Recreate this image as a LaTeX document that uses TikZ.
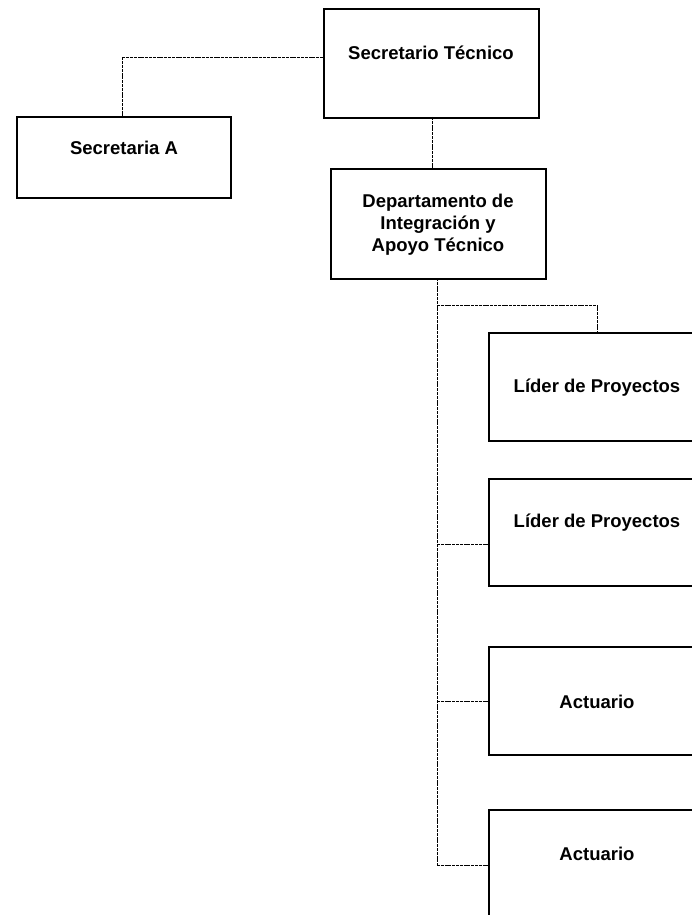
\documentclass[tikz,border=0pt]{standalone}
\usepackage{fontspec}
\setmainfont{Liberation Sans}
\begin{document}
\begin{tikzpicture}[x=1pt,y=-1pt,
  box/.style={draw=black,line width=1.8pt,fill=white,inner sep=0pt,anchor=north west},
  lbl/.style={font=\bfseries\fontsize{18.5}{22}\selectfont,align=center,inner sep=0pt},
  conn/.style={draw=black,line width=0.8pt,dash pattern=on 3pt off 0.8pt}]
\useasboundingbox (0,0) rectangle (692,915);
\clip (0,0) rectangle (692,915);
% boxes
\node[box,minimum width=215pt,minimum height=109pt] (st) at (323,8) {};
\node[box,minimum width=214pt,minimum height=81pt] (sa) at (16,116) {};
\node[box,minimum width=215pt,minimum height=110pt] (dep) at (330,168) {};
\node[box,minimum width=215pt,minimum height=108pt] (l1) at (488,332) {};
\node[box,minimum width=215pt,minimum height=107pt] (l2) at (488,478) {};
\node[box,minimum width=215pt,minimum height=108pt] (a1) at (488,646) {};
\node[box,minimum width=215pt,minimum height=110pt] (a2) at (488,809) {};
% labels
\node[lbl] (tst) at (431,53) {Secretario Técnico};
\node[lbl] (tsa) at (124,148) {Secretaria A};
\node[lbl] (tdep) at (438,225) {Departamento de\\Integración y\\Apoyo Técnico};
\node[lbl] (tl1) at (597,388) {Líder de Proyectos};
\node[lbl] (tl2) at (597,523) {Líder de Proyectos};
\node[lbl] (ta1) at (597,702) {Actuario};
\node[lbl] (ta2) at (597,854) {Actuario};
% connector points
\coordinate (stw) at (323,57);
\coordinate (sat) at (122,116);
\coordinate (stb) at (432,117);
\coordinate (bustop) at (437,278);
\coordinate (busend) at (437,865);
\coordinate (br) at (437,305);
\coordinate (l1t) at (597,332);
% connectors
\draw[conn] (stw) -| (sat);
\draw[conn] (stb) -- (stb |- dep.north);
\draw[conn] (bustop) -- (busend);
\draw[conn] (br) -| (l1t);
\draw[conn] (bustop |- 0,544) -- (l2.west |- 0,544);
\draw[conn] (bustop |- 0,701) -- (a1.west |- 0,701);
\draw[conn] (busend) -- (a2.west |- busend);
\end{tikzpicture}
\end{document}
